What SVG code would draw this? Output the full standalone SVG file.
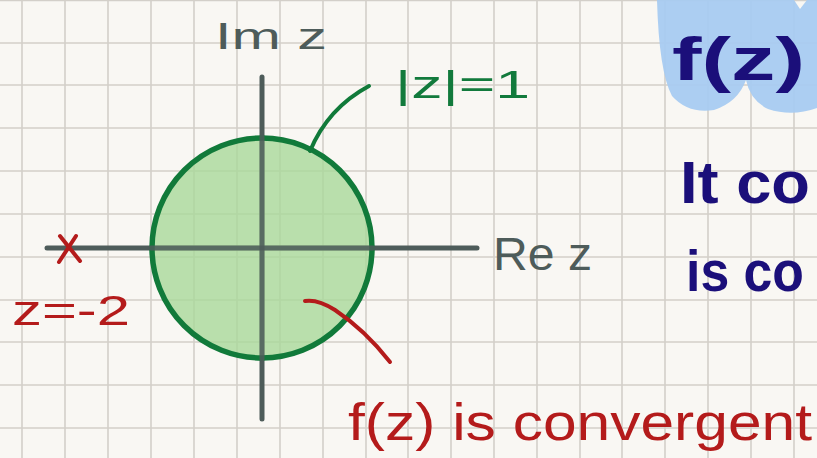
<svg xmlns="http://www.w3.org/2000/svg" width="817" height="458" viewBox="0 0 817 458">
<style>
.grid line{stroke:#d3cfc9;stroke-width:1.6}
.axis{stroke:#4e5c5a;stroke-width:5;stroke-linecap:round;fill:none}
.t{font-family:"Liberation Sans","DejaVu Sans",sans-serif}
.gray{fill:#4e5c5a}
.green{fill:#127a3c}
.red{fill:#b41b1b}
.navy{fill:#1b0f7a;font-weight:bold}
</style>
<rect width="817" height="458" fill="#f9f7f3"/>
<g class="grid">
<line x1="22" y1="0" x2="22" y2="458"/><line x1="65" y1="0" x2="65" y2="458"/><line x1="108" y1="0" x2="108" y2="458"/><line x1="151" y1="0" x2="151" y2="458"/><line x1="194" y1="0" x2="194" y2="458"/><line x1="237" y1="0" x2="237" y2="458"/><line x1="280" y1="0" x2="280" y2="458"/><line x1="323" y1="0" x2="323" y2="458"/><line x1="366" y1="0" x2="366" y2="458"/><line x1="408" y1="0" x2="408" y2="458"/><line x1="451" y1="0" x2="451" y2="458"/><line x1="494" y1="0" x2="494" y2="458"/><line x1="537" y1="0" x2="537" y2="458"/><line x1="580" y1="0" x2="580" y2="458"/><line x1="622" y1="0" x2="622" y2="458"/><line x1="665" y1="0" x2="665" y2="458"/><line x1="708" y1="0" x2="708" y2="458"/><line x1="751" y1="0" x2="751" y2="458"/><line x1="794" y1="0" x2="794" y2="458"/>
<line x1="0" y1="0.5" x2="817" y2="0.5"/><line x1="0" y1="43" x2="817" y2="43"/><line x1="0" y1="85" x2="817" y2="85"/><line x1="0" y1="128" x2="817" y2="128"/><line x1="0" y1="171" x2="817" y2="171"/><line x1="0" y1="214" x2="817" y2="214"/><line x1="0" y1="257" x2="817" y2="257"/><line x1="0" y1="300" x2="817" y2="300"/><line x1="0" y1="342" x2="817" y2="342"/><line x1="0" y1="385" x2="817" y2="385"/><line x1="0" y1="428" x2="817" y2="428"/>
</g>
<path d="M657 0 L794 0 L800 9 L807 0 L817 0 L817 108 Q792 117 768 109 Q750 100 746 80 Q738 102 714 110 Q688 114 672 96 Q659 72 657 0 Z" fill="#a8cbf1" opacity="0.95"/>
<g id="axes">
<line class="axis" x1="47" y1="248" x2="477" y2="248"/>
<line class="axis" x1="262" y1="77" x2="262" y2="419"/>
</g>
<g id="unit-circle">
<circle cx="262" cy="248" r="110" fill="#a9d89a" fill-opacity="0.8" stroke="#117a3a" stroke-width="5.5"/>
<line class="axis" x1="151" y1="248" x2="373" y2="248" stroke-opacity="0.85"/>
<line class="axis" x1="262" y1="137" x2="262" y2="359" stroke-opacity="0.85"/>
</g>
<g id="connectors" fill="none" stroke-linecap="round" stroke-width="4">
<path d="M310 151 Q328 108 369 86" stroke="#117a3a"/>
<path d="M305 301 Q318 299 335 310 Q365 330 390 362" stroke="#b41b1b"/>
</g>
<g id="labels">
<text class="t gray" x="215" y="49" font-size="37" textLength="112" lengthAdjust="spacingAndGlyphs">Im z</text>
<text class="t gray" x="493" y="270" font-size="46" textLength="99" lengthAdjust="spacingAndGlyphs">Re z</text>
<text class="t green" x="395" y="98" font-size="38" textLength="135" lengthAdjust="spacingAndGlyphs">|z|=1</text>
<text class="t red" x="12" y="325" font-size="42" textLength="118" lengthAdjust="spacingAndGlyphs">z=-2</text>
<g id="point" stroke="#b41b1b" stroke-width="4" stroke-linecap="round">
<line x1="60" y1="236" x2="80" y2="261"/><line x1="76" y1="236" x2="59" y2="262"/>
</g>
<text class="t red" x="348" y="440" font-size="52" textLength="464" lengthAdjust="spacingAndGlyphs">f(z) is convergent</text>
<text class="t navy" x="672" y="80" font-size="62" textLength="133" lengthAdjust="spacingAndGlyphs">f(z)</text>
<text class="t navy" x="680" y="203" font-size="60" textLength="130" lengthAdjust="spacingAndGlyphs">It co</text>
<text class="t navy" x="686" y="291" font-size="58" textLength="118" lengthAdjust="spacingAndGlyphs">is co</text>
</g>
</svg>
